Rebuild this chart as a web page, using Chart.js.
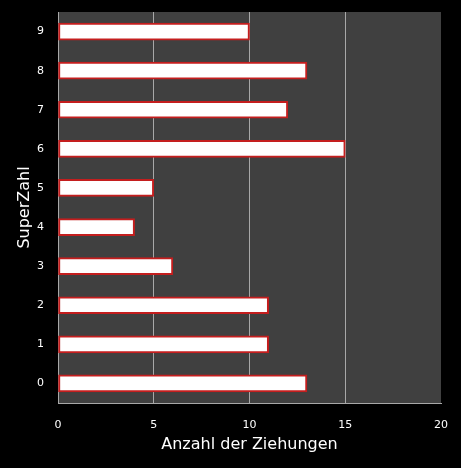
<!DOCTYPE html>
<html>
<head>
<meta charset="utf-8">
<script src="https://cdn.jsdelivr.net/npm/chart.js@4/dist/chart.umd.min.js"></script>
<style>
html, body { margin: 0; padding: 0; background: #000; }
#wrap { width: 461px; height: 468px; }
</style>
</head>
<body>
<div id="wrap"><canvas id="superZahlChart"></canvas></div>
<script>
// SuperZahl 0..9 und wie oft sie gezogen wurde
var superZahlen = ['0', '1', '2', '3', '4', '5', '6', '7', '8', '9'];
var anzahl = [13, 11, 11, 6, 4, 5, 15, 12, 13, 10];
var xTicks = [0, 5, 10, 15, 20];

// grauer Hintergrund nur im Plotbereich
const plotBg = {
  id: 'plotBg',
  beforeDraw(chart) {
    const a = chart.chartArea;
    const ctx = chart.ctx;
    ctx.save();
    ctx.fillStyle = '#404040';
    ctx.fillRect(a.left, a.top, a.right - a.left, a.bottom - a.top);
    ctx.restore();
  }
};

Chart.defaults.font.family = 'DejaVu Sans';
Chart.defaults.color = '#ffffff';

const ctx = document.getElementById('superZahlChart').getContext('2d');
new Chart(ctx, {
  type: 'bar',
  data: {
    labels: superZahlen,
    datasets: [{
      label: 'Anzahl',
      data: anzahl,
      backgroundColor: '#ffffff',
      borderColor: '#c41e1e',
      borderWidth: 2,
      borderSkipped: false,
      barThickness: 17
    }]
  },
  options: {
    indexAxis: 'y',
    responsive: true,
    maintainAspectRatio: false,
    animation: false,
    layout: { padding: { top: 12, right: 20, left: 15, bottom: 14 } },
    plugins: {
      legend: { display: false },
      tooltip: { enabled: false }
    },
    scales: {
      x: {
        min: 0,
        max: 20,
        afterBuildTicks(axis) {
          axis.ticks = xTicks.map(v => ({ value: v }));
        },
        grid: {
          color: function(c) {
            return (c.tick.value === 0 || c.tick.value === 20) ? 'rgba(0,0,0,0)' : '#a8a8a8';
          },
          lineWidth: 1,
          drawTicks: false
        },
        border: { display: true, color: '#a8a8a8', width: 1 },
        ticks: { color: '#ffffff', font: { size: 11 }, padding: 16 },
        title: {
          display: true,
          text: 'Anzahl der Ziehungen',
          color: '#ffffff',
          font: { size: 16 },
          padding: { top: 2, bottom: 0 }
        },
        afterFit(axis) {
          axis.height = 51;
          axis.paddingLeft = 0;
          axis.paddingRight = 0;
        }
      },
      y: {
        reverse: true,
        grid: { display: false, drawTicks: false },
        border: { display: true, color: '#a8a8a8', width: 1 },
        ticks: { color: '#ffffff', font: { size: 11 }, padding: 14 },
        title: {
          display: true,
          text: 'SuperZahl',
          color: '#ffffff',
          font: { size: 16 },
          padding: { top: 0, bottom: 4 }
        },
        afterFit(axis) {
          axis.width = 43;
          axis.paddingTop = 0;
          axis.paddingBottom = 0;
        }
      }
    }
  },
  plugins: [plotBg]
});
</script>
</body>
</html>
